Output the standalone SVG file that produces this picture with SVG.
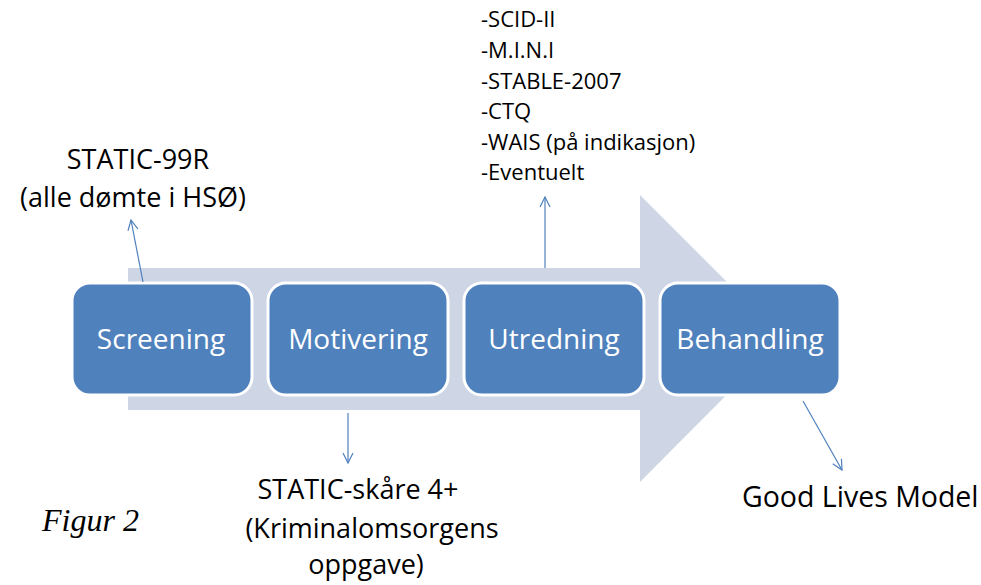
<svg xmlns="http://www.w3.org/2000/svg" width="981" height="585" viewBox="0 0 981 585">
<style>
.box{fill:#4F81BD;stroke:#ffffff;stroke-width:3}
.lbl{font-family:"Open Sans","Liberation Sans",sans-serif;font-size:28px;fill:#ffffff;text-anchor:middle}
.txt{font-family:"Open Sans","Liberation Sans",sans-serif;fill:#000000}
.con{stroke:#4F81BD;stroke-width:1.2;fill:none}
</style>
<defs>
<marker id="ah" viewBox="0 0 12 12" refX="11" refY="6" markerWidth="12" markerHeight="12" markerUnits="userSpaceOnUse" orient="auto">
<path d="M1,1 L11,6 L1,11" fill="none" stroke="#4F81BD" stroke-width="1.2"/>
</marker>
</defs>
<rect width="981" height="585" fill="#ffffff"/>
<g id="bigarrow">
<polygon points="128,268 640,268 640,195 783,338 640,482 640,410 128,410" fill="#CED6E6"/>
</g>
<g id="screening"><rect class="box" x="72" y="283" width="180" height="112" rx="18"/><text class="lbl" x="161" y="349">Screening</text></g>
<g id="motivering"><rect class="box" x="268" y="283" width="180" height="112" rx="18"/><text class="lbl" x="358" y="349">Motivering</text></g>
<g id="utredning"><rect class="box" x="464" y="283" width="180" height="112" rx="18"/><text class="lbl" x="554" y="349">Utredning</text></g>
<g id="behandling"><rect class="box" x="660" y="283" width="180" height="112" rx="18"/><text class="lbl" x="750" y="349">Behandling</text></g>
<g id="connectors">
<line class="con" x1="143" y1="282" x2="131" y2="220" marker-end="url(#ah)"/>
<line class="con" x1="348" y1="413" x2="348" y2="463" marker-end="url(#ah)"/>
<line class="con" x1="545" y1="268" x2="545" y2="197" marker-end="url(#ah)"/>
<line class="con" x1="803" y1="401" x2="842" y2="470" marker-end="url(#ah)"/>
</g>
<g id="static99">
<text class="txt" font-size="27" text-anchor="middle" x="138" y="169">STATIC-99R</text>
<text class="txt" font-size="27" text-anchor="middle" x="133" y="207">(alle dømte i HSØ)</text>
</g>
<g id="list">
<text class="txt" font-size="22" x="481" y="27">-SCID-II</text>
<text class="txt" font-size="22" x="481" y="58">-M.I.N.I</text>
<text class="txt" font-size="22" x="481" y="89">-STABLE-2007</text>
<text class="txt" font-size="22" x="481" y="119">-CTQ</text>
<text class="txt" font-size="22" x="481" y="150">-WAIS (på indikasjon)</text>
<text class="txt" font-size="22" x="481" y="180">-Eventuelt</text>
</g>
<g id="staticskare">
<text class="txt" font-size="27" text-anchor="middle" x="358" y="499">STATIC-skåre 4+</text>
<text class="txt" font-size="27" text-anchor="middle" x="372" y="538">(Kriminalomsorgens</text>
<text class="txt" font-size="27" text-anchor="middle" x="366" y="574">oppgave)</text>
</g>
<g id="glm"><text class="txt" font-size="28.5" x="742" y="507">Good Lives Model</text></g>
<g id="figur"><text font-family="Liberation Serif, serif" font-style="italic" font-size="32" x="42" y="531" fill="#000">Figur 2</text></g>
</svg>
